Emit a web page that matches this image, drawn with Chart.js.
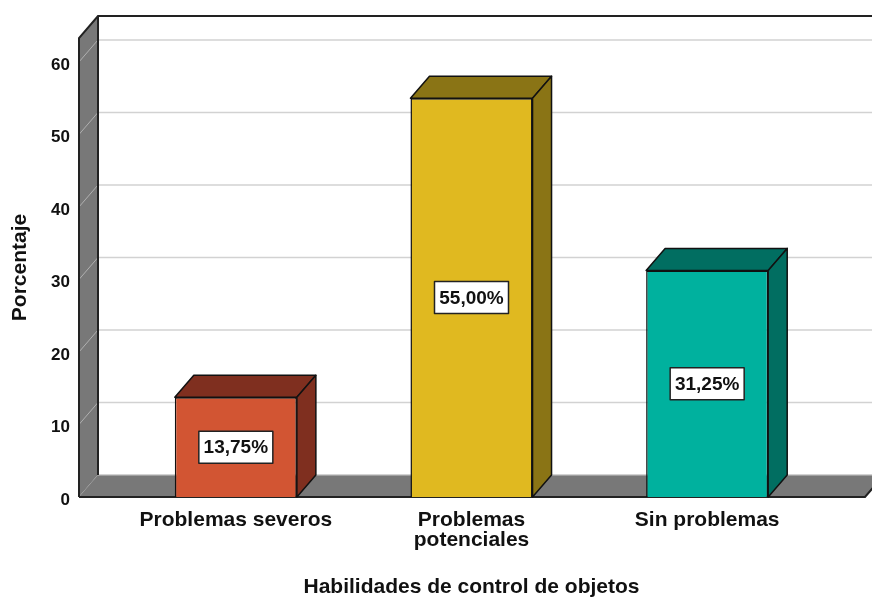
<!DOCTYPE html>
<html>
<head>
<meta charset="utf-8">
<script src="https://cdn.jsdelivr.net/npm/chart.js@4/dist/chart.umd.min.js"></script>
<style>
  html, body { margin: 0; padding: 0; background: #fff; }
  canvas { display: block; }
</style>
</head>
<body>
<canvas id="chart" width="872" height="597"></canvas>
<script>
// data
var categories = ["Problemas severos", ["Problemas", "potenciales"], "Sin problemas"];
var percentages = [13.75, 55.00, 31.25];
var frontColors = ["#d25533", "#e0b920", "#00b19e"];
var sideColors = ["#7f2f1f", "#8a7415", "#016e61"];
var yTicks = [0, 10, 20, 30, 40, 50, 60];

var FONT = "'Liberation Sans', Arial, sans-serif";
var depth = { dx: 19, dy: -22 };

function fmt(v) {
  return v.toFixed(2).replace(".", ",") + "%";
}

// walls, floor and gridlines of the 3d box
var boxPlugin = {
  id: "box3d",
  beforeDatasetsDraw: function(chart) {
    var ctx = chart.ctx, a = chart.chartArea, y = chart.scales.y;
    var L = a.left - 39, R = a.right + 40, T = a.top, B = a.bottom;
    var dx = depth.dx, dy = depth.dy;
    ctx.save();
    // gridlines on back wall
    y.ticks.forEach(function(t) {
      var py = y.getPixelForValue(t.value);
      ctx.strokeStyle = "#d2d2d2";
      ctx.lineWidth = 1.5;
      ctx.beginPath();
      ctx.moveTo(L + dx, py + dy);
      ctx.lineTo(R + dx + 20, py + dy);
      ctx.stroke();
    });
    // left wall
    ctx.fillStyle = "#787878";
    ctx.beginPath();
    ctx.moveTo(L, T); ctx.lineTo(L + dx, T + dy); ctx.lineTo(L + dx, B + dy); ctx.lineTo(L, B);
    ctx.closePath();
    ctx.fill();
    y.ticks.forEach(function(t) {
      var py = y.getPixelForValue(t.value);
      ctx.strokeStyle = "#b0b0b0";
      ctx.lineWidth = 1;
      ctx.beginPath();
      ctx.moveTo(L, py);
      ctx.lineTo(L + dx, py + dy);
      ctx.stroke();
    });
    // floor
    ctx.fillStyle = "#787878";
    ctx.beginPath();
    ctx.moveTo(L, B); ctx.lineTo(L + dx, B + dy); ctx.lineTo(R + dx, B + dy); ctx.lineTo(R, B);
    ctx.closePath();
    ctx.fill();
    ctx.strokeStyle = "#c8c8c8";
    ctx.lineWidth = 1;
    ctx.beginPath();
    ctx.moveTo(L + dx, B + dy); ctx.lineTo(R + dx, B + dy);
    ctx.stroke();
    // outlines
    ctx.strokeStyle = "#222";
    ctx.lineWidth = 2;
    ctx.beginPath();
    ctx.moveTo(L, B); ctx.lineTo(L, T); ctx.lineTo(L + dx, T + dy); ctx.lineTo(R + dx + 20, T + dy);
    ctx.moveTo(L + dx, T + dy); ctx.lineTo(L + dx, B + dy);
    ctx.moveTo(L, B); ctx.lineTo(R, B); ctx.lineTo(R + dx, B + dy);
    ctx.stroke();
    ctx.restore();
  },
  afterDatasetsDraw: function(chart) {
    var ctx = chart.ctx, dx = depth.dx, dy = depth.dy;
    var meta = chart.getDatasetMeta(0);
    ctx.save();
    meta.data.forEach(function(bar, i) {
      var p = bar.getProps(["x", "y", "base", "width"], true);
      var x1 = p.x - p.width / 2, x2 = p.x + p.width / 2, top = p.y, bot = p.base;
      ctx.fillStyle = sideColors[i];
      ctx.strokeStyle = "#111";
      ctx.lineWidth = 1.5;
      ctx.lineJoin = "round";
      // top face
      ctx.beginPath();
      ctx.moveTo(x1, top); ctx.lineTo(x1 + dx, top + dy); ctx.lineTo(x2 + dx, top + dy); ctx.lineTo(x2, top);
      ctx.closePath();
      ctx.fill(); ctx.stroke();
      // side face
      ctx.beginPath();
      ctx.moveTo(x2, top); ctx.lineTo(x2 + dx, top + dy); ctx.lineTo(x2 + dx, bot + dy); ctx.lineTo(x2, bot);
      ctx.closePath();
      ctx.fill(); ctx.stroke();
      // value label
      var cy = (top + bot) / 2;
      var bw = 74, bh = 32;
      ctx.fillStyle = "#fff";
      ctx.fillRect(p.x - bw / 2, cy - bh / 2, bw, bh);
      ctx.strokeStyle = "#222";
      ctx.lineWidth = 1.5;
      ctx.strokeRect(p.x - bw / 2, cy - bh / 2, bw, bh);
      ctx.fillStyle = "#111";
      ctx.font = "bold 19px " + FONT;
      ctx.textAlign = "center";
      ctx.textBaseline = "middle";
      ctx.fillText(fmt(percentages[i]), p.x, cy + 1);
    });
    ctx.restore();
  }
};

new Chart(document.getElementById("chart"), {
  type: "bar",
  data: {
    labels: categories,
    datasets: [{
      data: percentages,
      backgroundColor: frontColors,
      borderColor: "#111",
      borderWidth: 1.5,
      barPercentage: 0.518,
      categoryPercentage: 1
    }]
  },
  options: {
    responsive: false,
    animation: false,
    layout: { padding: { top: 38, right: 47, bottom: 0, left: 0 } },
    plugins: { legend: { display: false }, tooltip: { enabled: false } },
    scales: {
      x: {
        grid: { display: false, drawTicks: false },
        border: { display: false },
        ticks: {
          color: "#111",
          padding: 13,
          maxRotation: 0,
          font: { family: FONT, size: 21, weight: "bold", lineHeight: 0.95 }
        },
        title: {
          display: true,
          text: "Habilidades de control de objetos",
          color: "#111",
          padding: { top: 0, bottom: 0 },
          font: { family: FONT, size: 21, weight: "bold", lineHeight: 0.9 }
        },
        afterFit: function(scale) { scale.height = 100; }
      },
      y: {
        min: 0,
        max: 63.3,
        grid: { display: false, drawTicks: false },
        border: { display: false },
        afterBuildTicks: function(scale) {
          scale.ticks = yTicks.map(function(v) { return { value: v }; });
        },
        ticks: {
          color: "#111",
          padding: 48,
          labelOffset: 3,
          font: { family: FONT, size: 17, weight: "bold" }
        },
        title: {
          display: true,
          text: "Porcentaje",
          color: "#111",
          padding: { top: 8, bottom: 0 },
          font: { family: FONT, size: 21, weight: "bold" }
        },
        afterFit: function(scale) {
          scale.width = 118;
          scale.paddingTop = 0;
          scale.paddingBottom = 0;
        }
      }
    }
  },
  plugins: [boxPlugin]
});
</script>
</body>
</html>
